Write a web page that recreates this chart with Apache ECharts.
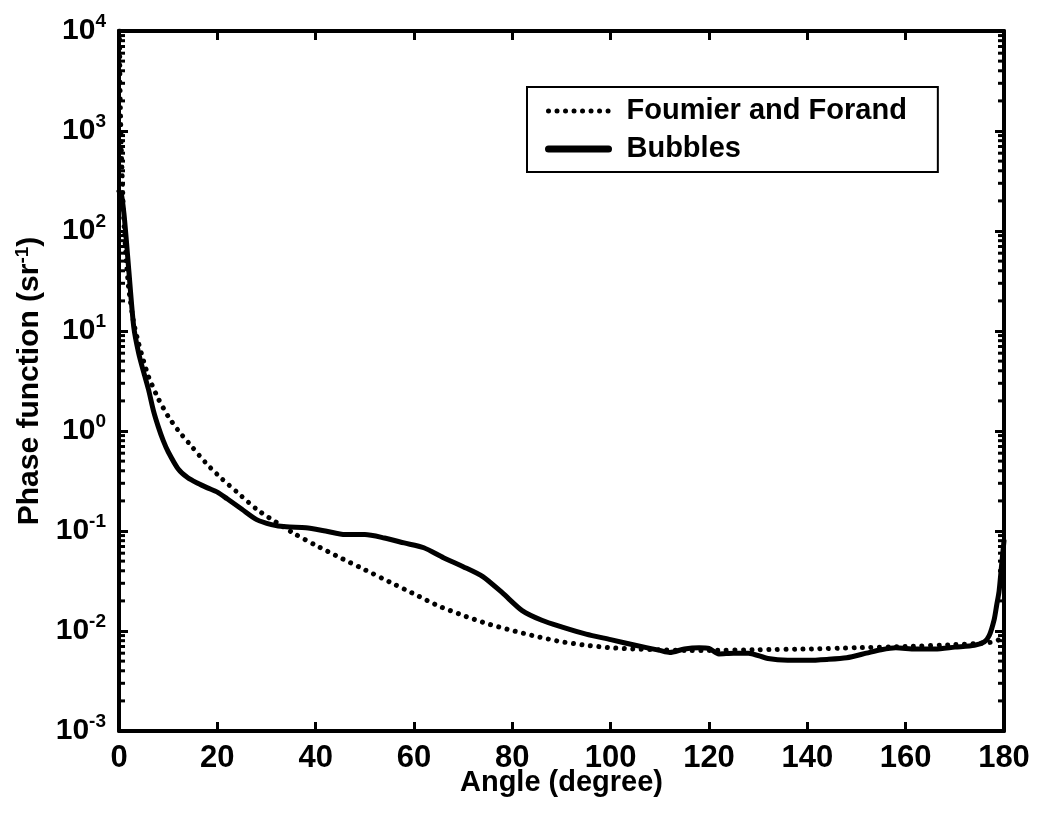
<!DOCTYPE html>
<html>
<head>
<meta charset="utf-8">
<script src="https://cdn.jsdelivr.net/npm/echarts@6/dist/echarts.min.js"></script>
<style>
html,body{margin:0;padding:0;background:#fff;}
#chart{width:1039px;height:823px;}
</style>
</head>
<body>
<div id="chart"></div>
<script>
// ---- data ----
const xTicks = [0, 20, 40, 60, 80, 100, 120, 140, 160, 180];
const yDecades = [1e-3, 1e-2, 1e-1, 1e0, 1e1, 1e2, 1e3, 1e4];

const ffAngle = [0.1, 0.2, 0.3, 0.5, 0.75, 1, 1.5, 2, 3, 4, 5, 6, 8, 10, 12, 15, 18, 21, 24, 28, 32, 36, 40, 45, 50, 55, 60, 65, 70, 75, 80, 85, 90, 95, 100, 105, 110, 115, 120, 130, 140, 150, 160, 170, 175, 178, 179, 180];
const ffValue = [1e4, 3000, 1500, 600, 250, 120, 50, 26, 12, 7.5, 5, 3.5, 2.1, 1.4, 1.02, 0.68, 0.46, 0.33, 0.245, 0.165, 0.122, 0.092, 0.072, 0.054, 0.041, 0.031, 0.0235, 0.0178, 0.0143, 0.0118, 0.0101, 0.0088, 0.0078, 0.0072, 0.0068, 0.0066, 0.0065, 0.0064, 0.0064, 0.0065, 0.0066, 0.0068, 0.007, 0.0073, 0.0075, 0.0078, 0.0082, 0.0088];

const bubAngle = [0, 0.5, 1, 1.5, 2, 3, 4, 5, 6, 7, 8, 9, 10, 12, 14, 16, 18, 20, 22, 25, 28, 31, 34, 38, 42, 46, 50, 54, 58, 62, 66, 70, 74, 78, 82, 86, 90, 95, 100, 105, 110, 112, 115, 118, 120, 122, 125, 128, 132, 136, 140, 144, 148, 152, 155, 158, 162, 166, 170, 174, 176, 177, 178, 178.5, 179, 179.5, 180];
const bubValue = [250, 230, 150, 80, 40, 11, 6, 3.9, 2.6, 1.6, 1.1, 0.8, 0.62, 0.42, 0.34, 0.3, 0.27, 0.245, 0.21, 0.165, 0.13, 0.116, 0.11, 0.108, 0.1, 0.092, 0.092, 0.085, 0.076, 0.068, 0.054, 0.044, 0.035, 0.024, 0.016, 0.0128, 0.011, 0.0093, 0.0082, 0.0072, 0.0064, 0.0061, 0.0066, 0.0068, 0.0067, 0.0059, 0.006, 0.006, 0.0053, 0.0051, 0.0051, 0.0052, 0.0054, 0.006, 0.0065, 0.0068, 0.0066, 0.0066, 0.0069, 0.0072, 0.0078, 0.009, 0.013, 0.018, 0.025, 0.045, 0.08];

// log minor tick positions (2..9 x 10^k)
const minorTickVals = [];
for (let k = -3; k < 4; k++) for (let m = 2; m <= 9; m++) minorTickVals.push(m * Math.pow(10, k));

const FONT = 'Liberation Sans';
const chart = echarts.init(document.getElementById('chart'), null, {renderer: 'canvas'});

const supFmt = function (v) {
  const e = Math.round(Math.log10(v));
  return '{b|10}{s|' + e + '}';
};
const supRich = {
  b: {fontSize: 30, fontWeight: 'bold', fontFamily: FONT, color: '#000', lineHeight: 38},
  s: {fontSize: 19, fontWeight: 'bold', fontFamily: FONT, color: '#000', lineHeight: 19, verticalAlign: 'top'}
};

const axisLine = {show: true, onZero: false, lineStyle: {color: '#000', width: 4}};
const DOTS = [0.01, 8.5];

chart.setOption({
  animation: false,
  backgroundColor: '#fff',
  grid: {left: 119, right: 35, top: 31, bottom: 92, containLabel: false, outerBoundsMode: 'none'},
  legend: {
    data: [
      {name: 'Foumier and Forand', itemStyle: {opacity: 0}, lineStyle: {color: '#000', width: 5, type: DOTS, cap: 'round'}},
      {name: 'Bubbles', itemStyle: {opacity: 0}, lineStyle: {color: '#000', width: 7, cap: 'round'}}
    ],
    orient: 'vertical',
    left: 527, top: 87,
    padding: [8, 31, 7, 18],
    itemGap: 6,
    itemWidth: 60, itemHeight: 20,
    borderColor: '#000', borderWidth: 2,
    backgroundColor: '#fff',
    itemStyle: {opacity: 0},
    textStyle: {fontSize: 29, fontWeight: 'bold', fontFamily: FONT, color: '#000', padding: [0, 0, 0, 13], lineHeight: 32},
    selectedMode: false
  },
  xAxis: [{
    type: 'value', min: 0, max: 180, interval: 20, position: 'bottom',
    name: 'Angle (degree)', nameLocation: 'middle', nameGap: 37, nameMoveOverlap: false,
    nameTextStyle: {fontSize: 29, fontWeight: 'bold', fontFamily: FONT, color: '#000'},
    axisLine: axisLine,
    axisTick: {show: true, inside: true, length: 9, lineStyle: {color: '#000', width: 3}},
    axisLabel: {fontSize: 31, fontWeight: 'bold', fontFamily: FONT, color: '#000', margin: 12, showMinLabel: true, showMaxLabel: true},
    splitLine: {show: false}
  }, {
    type: 'value', min: 0, max: 180, interval: 20, position: 'top',
    axisLine: axisLine,
    axisTick: {show: true, inside: true, length: 9, lineStyle: {color: '#000', width: 3}},
    axisLabel: {show: false},
    splitLine: {show: false}
  }],
  yAxis: [{
    type: 'log', logBase: 10, min: 1e-3, max: 1e4, position: 'left',
    name: '{a|Phase function (sr}{s|-1}{a|)}', nameLocation: 'middle', nameGap: 66, nameRotate: 90,
    nameTextStyle: {rich: {
      a: {fontSize: 30, fontWeight: 'bold', fontFamily: FONT, color: '#000', lineHeight: 34},
      s: {fontSize: 19, fontWeight: 'bold', fontFamily: FONT, color: '#000', lineHeight: 19, verticalAlign: 'top'}
    }},
    axisLine: axisLine,
    axisTick: {show: true, inside: true, length: 9, lineStyle: {color: '#000', width: 3}},
    axisLabel: {formatter: supFmt, rich: supRich, margin: 13, showMinLabel: true, showMaxLabel: true},
    splitLine: {show: false}
  }, {
    type: 'log', logBase: 10, min: 1e-3, max: 1e4, position: 'right',
    axisLine: axisLine,
    axisTick: {show: true, inside: true, length: 9, lineStyle: {color: '#000', width: 3}},
    axisLabel: {show: false},
    splitLine: {show: false}
  }],
  series: [{
    name: 'Foumier and Forand',
    type: 'line',
    xAxisIndex: 0, yAxisIndex: 0,
    data: ffAngle.map((a, i) => [a, ffValue[i]]),
    showSymbol: false, symbol: 'none',
    smooth: 0.2,
    lineStyle: {color: '#000', width: 5, type: DOTS, cap: 'round'},
    itemStyle: {color: '#000'},
    z: 3
  }, {
    name: 'Bubbles',
    type: 'line',
    xAxisIndex: 0, yAxisIndex: 0,
    data: bubAngle.map((a, i) => [a, bubValue[i]]),
    showSymbol: false, symbol: 'none',
    smooth: 0.25,
    lineStyle: {color: '#000', width: 5, cap: 'round', join: 'round'},
    itemStyle: {color: '#000'},
    z: 4
  }, {
    name: 'minorTicks',
    type: 'custom',
    xAxisIndex: 0, yAxisIndex: 0,
    silent: true,
    clip: false,
    data: minorTickVals.map(v => [0, v]),
    renderItem: function (params, api) {
      const v = api.value(1);
      const l = api.coord([0, v]);
      const r = api.coord([180, v]);
      return {
        type: 'group',
        children: [
          {type: 'line', shape: {x1: l[0], y1: l[1], x2: l[0] + 6, y2: l[1]}, style: {stroke: '#000', lineWidth: 3}},
          {type: 'line', shape: {x1: r[0], y1: r[1], x2: r[0] - 6, y2: r[1]}, style: {stroke: '#000', lineWidth: 3}}
        ]
      };
    },
    z: 5
  }]
});
</script>
</body>
</html>
